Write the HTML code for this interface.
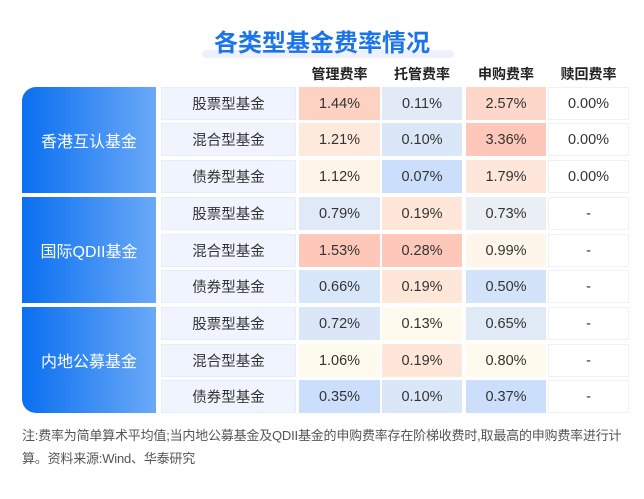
<!DOCTYPE html>
<html><head><meta charset="utf-8"><style>
body{margin:0;width:644px;height:499px;background:#fff;font-family:"Liberation Sans","Noto Sans CJK SC",sans-serif;position:relative;overflow:hidden}
.a{position:absolute;box-sizing:border-box;display:flex;align-items:center;justify-content:center}
</style></head><body>
<div class="a" style="left:202px;top:50px;width:252px;height:8px;background:#eef1fd;border-radius:4px"></div>
<div class="a" style="left:0;top:22px;width:644px;height:36px;font-size:24px;font-weight:bold;color:#1a74ea">各类型基金费率情况</div>
<div id="t"></div>
<div style="position:absolute;left:22px;top:424px;width:612px;font-size:13px;line-height:23px;color:#555;letter-spacing:-0.2px">注:费率为简单算术平均值;当内地公募基金及QDII基金的申购费率存在阶梯收费时,取最高的申购费率进行计算。资料来源:Wind、华泰研究</div>
<script>
const columns=["管理费率","托管费率","申购费率","赎回费率"];
const groups=["香港互认基金","国际QDII基金","内地公募基金"];
const types=["股票型基金","混合型基金","债券型基金"];
const mgmt=[1.44,1.21,1.12,0.79,1.53,0.66,0.72,1.06,0.35];
const cust=[0.11,0.10,0.07,0.19,0.28,0.19,0.13,0.19,0.10];
const subs=[2.57,3.36,1.79,0.73,0.99,0.50,0.65,0.80,0.37];
const redm=[0,0,0,null,null,null,null,null,null];
const series=[mgmt,cust,subs,redm];
const t=document.getElementById('t');
const colX=[299,382,466,548],colW=[81,80,80,81];
const rowTop=[87,123,160,197,234,270,307,344,380],rowH=33;
function mk(css,txt){const d=document.createElement('div');d.className='a';d.style.cssText=css;if(txt!=null)d.textContent=txt;t.appendChild(d);return d;}
function lerp(a,b,u){return a.map((v,i)=>Math.round(v+(b[i]-v)*u));}
const blue=[203,223,252],cream=[254,250,238],sal=[253,200,185];
function color(arr,v){
  if(v==null)return '#fff';
  const s=arr.filter(x=>x!=null).sort((a,b)=>a-b),mn=s[0],mx=s[s.length-1],md=s[Math.floor(s.length/2)];
  if(mx==mn)return '#fff';
  let c;
  if(v>=md){const u=(v-md)/(mx-md||1);c=lerp(cream,sal,u);}
  else{const u=Math.sqrt((md-v)/(md-mn||1));c=lerp(cream,blue,u);}
  return 'rgb('+c.join(',')+')';
}
columns.forEach((c,j)=>{
  const e=mk(`left:${colX[j]}px;top:63px;width:${colW[j]}px;height:22px;font-size:14px;font-weight:bold;color:#222`,c);
  
});
groups.forEach((g,i)=>{
  const top=rowTop[i*3],h=rowTop[i*3+2]+rowH-top;
  const r=i==0?'border-top-left-radius:14px;':i==2?'border-bottom-left-radius:14px;':'';
  const e=mk(`left:22px;top:${top}px;width:134px;height:${h}px;background:linear-gradient(90deg,#0a6ff0,#6aa9f8);color:#fff;font-size:16px;${r}`,g);
  
});
rowTop.forEach((y,k)=>{
  const e=mk(`left:161px;top:${y}px;width:135px;height:${rowH}px;background:#f0f4fe;border:1px solid #e6ecfb;font-size:14.5px;color:#333`,types[k%3]);
  
  series.forEach((arr,j)=>{
    const v=arr[k];
    const c=mk(`left:${colX[j]}px;top:${y}px;width:${colW[j]}px;height:${rowH}px;background:${color(arr,v)};border:1px solid ${j==3?'#eef1f8':'transparent'};font-size:14.5px;color:#333`,v==null?'-':v.toFixed(2)+'%');
    
    
  });
});
</script>
</body></html>
